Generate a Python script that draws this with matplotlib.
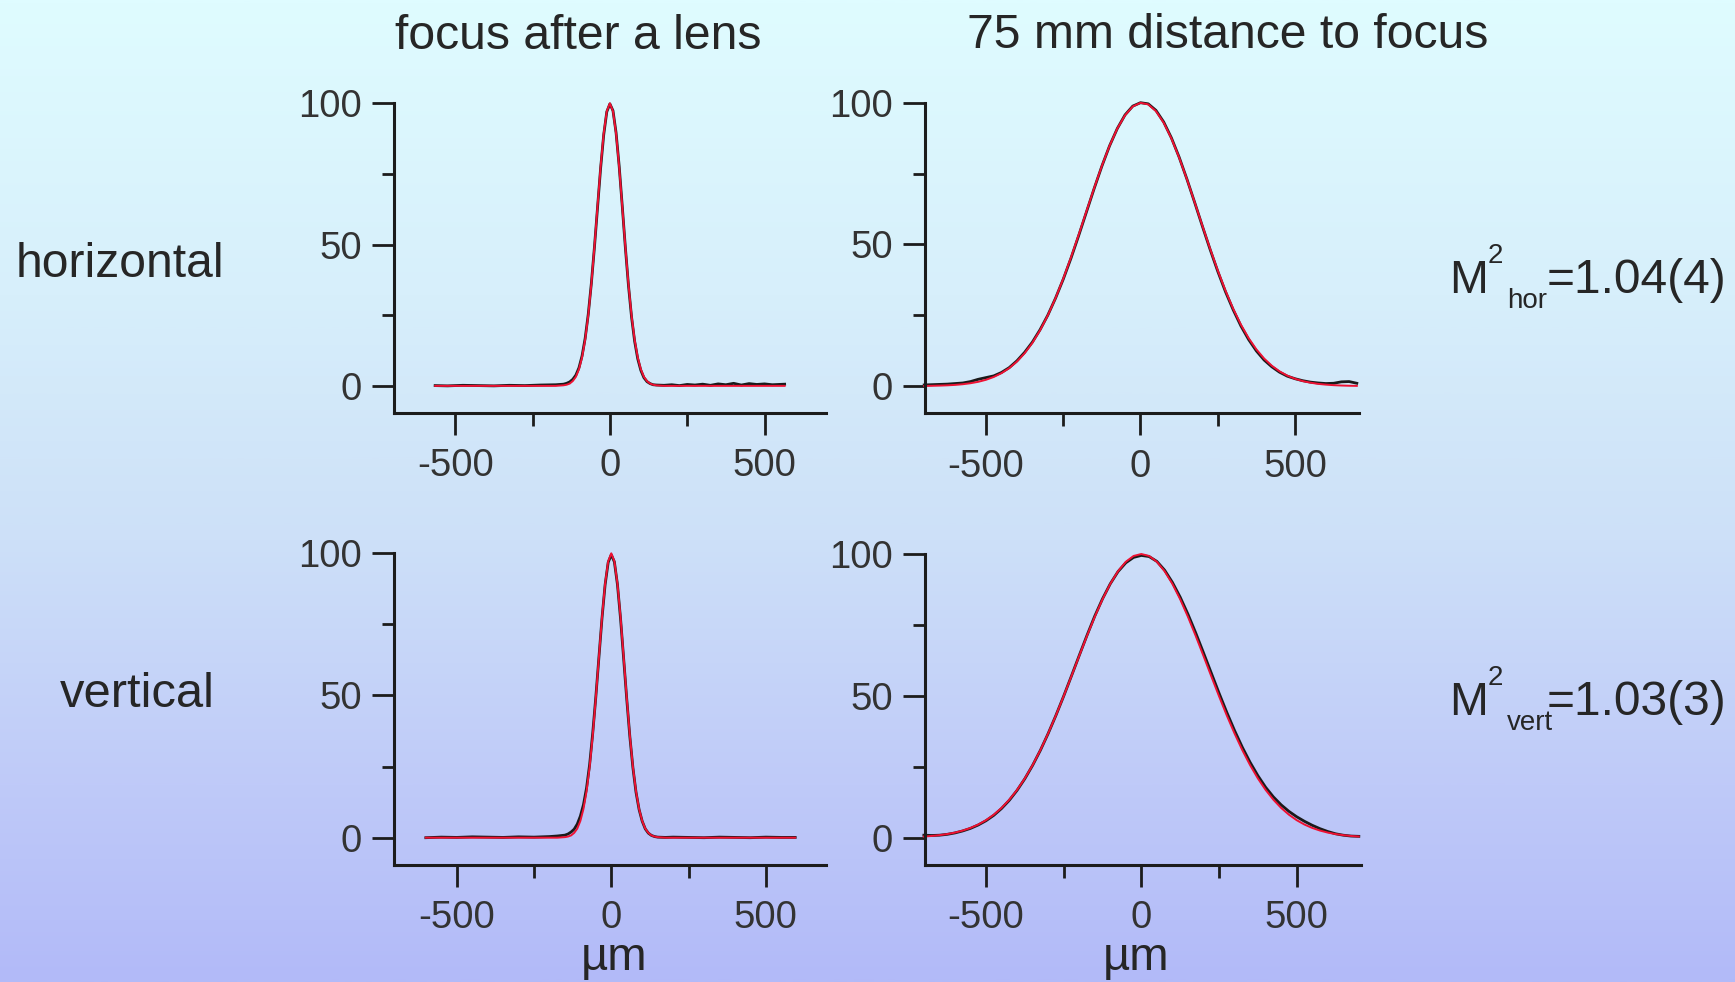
import numpy as np
import matplotlib
matplotlib.use("Agg")
import matplotlib.pyplot as plt
from matplotlib.colors import LinearSegmentedColormap
from matplotlib.ticker import MultipleLocator

plt.rcParams['font.family'] = ['Liberation Sans', 'DejaVu Sans']
plt.rcParams['axes.unicode_minus'] = False

# ---------------- data ----------------
col_titles = ["focus after a lens", "75 mm distance to focus"]
row_labels = ["horizontal", "vertical"]
x_unit = "\u00b5m"
x_ticks = [-500, 0, 500]
y_ticks = [0, 50, 100]

# horizontal, focus after a lens
x_hf = [-565, -525, -475, -425, -375, -325, -275, -225, -175,
        -150, -140, -130, -120, -110, -100, -90, -80, -70, -60, -50, -40, -30, -20, -10,
        0, 10, 20, 30, 40, 50, 60, 70, 80, 90, 100, 110, 120, 130, 140, 150,
        175, 200, 225, 250, 275, 300, 325, 350, 375, 400, 425, 450, 475, 500, 525, 565]
y_hf_data = [0.1, 0.0, 0.2, 0.1, 0.0, 0.2, 0.1, 0.3, 0.4,
             0.6, 0.9, 1.4, 2.3, 3.8, 6.4, 10.6, 16.8, 25.3, 36.2, 49.0, 63.0, 77.0, 88.8, 97.0,
             99.8, 97.4, 89.6, 77.8, 63.6, 49.0, 35.6, 24.4, 15.8, 9.6, 5.5, 2.9, 1.5, 0.8, 0.4, 0.3,
             0.2, 0.4, 0.1, 0.5, 0.3, 0.6, 0.2, 0.7, 0.4, 0.9, 0.3, 0.8, 0.5, 0.7, 0.4, 0.6]
y_hf_fit = [0, 0, 0, 0, 0, 0, 0, 0, 0,
            0.2, 0.4, 0.8, 1.7, 3.2, 5.9, 10.1, 16.3, 24.9, 36.0, 49.2, 63.5, 77.5, 89.3, 97.2,
            100, 97.2, 89.3, 77.5, 63.5, 49.2, 36.0, 24.9, 16.3, 10.1, 5.9, 3.2, 1.7, 0.8, 0.4, 0.2,
            0, 0, 0, 0, 0, 0, 0, 0, 0, 0, 0, 0, 0, 0, 0, 0]

# horizontal, 75 mm distance to focus
x_hd = list(range(-700, 701, 25))
y_hd_data = [0.4, 0.5, 0.6, 0.7, 0.9, 1.1, 1.6, 2.4, 3.0, 3.6, 4.8, 6.5, 8.9, 11.9, 15.5, 19.9, 25.0,
             31.0, 37.7, 45.1, 53.1, 61.4, 69.7, 77.6, 84.8, 90.9, 95.7, 98.8, 100.0, 99.6, 97.3,
             93.2, 87.6, 80.8, 73.1, 64.9, 56.5, 48.3, 40.5, 33.3, 26.9, 21.2, 16.4, 12.4, 9.2,
             6.8, 4.9, 3.5, 2.6, 1.9, 1.4, 1.1, 0.9, 1.0, 1.5, 1.6, 1.0]
y_hd_fit = [0.06, 0.10, 0.17, 0.27, 0.42, 0.66, 1.01, 1.51, 2.22, 3.21, 4.55, 6.32, 8.64, 11.58,
            15.23, 19.68, 24.94, 31.02, 37.88, 45.40, 53.40, 61.65, 69.86, 77.70, 84.82, 90.89,
            95.58, 98.67, 99.96, 99.40, 97.02, 92.95, 87.39, 80.65, 73.06, 64.95, 56.68, 48.55,
            40.81, 33.68, 27.27, 21.68, 16.91, 12.95, 9.73, 7.18, 5.20, 3.70, 2.58, 1.76, 1.19,
            0.78, 0.51, 0.32, 0.20, 0.12, 0.07]

# vertical, focus after a lens
x_vf = [-600, -550, -500, -450, -400, -350, -300, -250, -200, -175,
        -150, -140, -130, -120, -110, -100, -90, -80, -70, -60, -50, -40, -30, -20, -10,
        0, 10, 20, 30, 40, 50, 60, 70, 80, 90, 100, 110, 120, 130, 140, 150,
        175, 200, 250, 300, 350, 400, 450, 500, 550, 595]
y_vf_data = [0.0, 0.2, 0.1, 0.3, 0.2, 0.1, 0.3, 0.2, 0.4, 0.6,
             0.9, 1.3, 2.0, 3.0, 4.8, 7.6, 11.6, 17.5, 25.8, 36.8, 49.5, 63.4, 77.2, 88.9, 96.8,
             99.5, 97.0, 89.0, 77.0, 63.0, 48.8, 35.6, 24.6, 16.0, 9.9, 5.8, 3.1, 1.6, 0.8, 0.4, 0.2,
             0.1, 0.2, 0.1, 0.0, 0.2, 0.1, 0.0, 0.2, 0.1, 0.1]
y_vf_fit = [0, 0, 0, 0, 0, 0, 0, 0, 0, 0,
            0.2, 0.4, 0.8, 1.7, 3.2, 5.9, 10.1, 16.3, 24.9, 36.0, 49.2, 63.5, 77.5, 89.3, 97.2,
            100, 97.2, 89.3, 77.5, 63.5, 49.2, 36.0, 24.9, 16.3, 10.1, 5.9, 3.2, 1.7, 0.8, 0.4, 0.2,
            0, 0, 0, 0, 0, 0, 0, 0, 0, 0]

# vertical, 75 mm distance to focus
x_vd = list(range(-700, 701, 25))
y_vd_data = [0.9, 0.8, 0.9, 1.2, 1.7, 2.4, 3.3, 4.5, 6.0, 7.9, 10.3, 13.2, 16.7, 20.8, 25.5, 30.8,
             36.7, 43.1, 49.9, 57.0, 64.2, 71.3, 78.1, 84.2, 89.5, 93.8, 96.9, 98.8, 99.5, 99.1,
             97.4, 94.3, 90.0, 84.8, 78.8, 72.2, 65.2, 58.1, 51.0, 44.2, 37.8, 31.9, 26.6, 21.9,
             17.8, 14.4, 11.6, 9.3, 7.4, 5.8, 4.4, 3.2, 2.2, 1.4, 0.9, 0.6, 0.5]
y_vd_fit = [0.43, 0.63, 0.91, 1.30, 1.82, 2.53, 3.46, 4.66, 6.19, 8.13, 10.51, 13.41, 16.86, 20.92,
            25.59, 30.88, 36.74, 43.11, 49.89, 56.94, 64.08, 71.13, 77.86, 84.04, 89.47, 93.93,
            97.26, 99.31, 100.0, 99.31, 97.26, 93.93, 89.47, 84.04, 77.86, 71.13, 64.08, 56.94,
            49.89, 43.11, 36.74, 30.88, 25.59, 20.92, 16.86, 13.41, 10.51, 8.13, 6.19, 4.66, 3.46,
            2.53, 1.82, 1.30, 0.91, 0.63, 0.43]

m2_labels = [("hor", "=1.04(4)"), ("vert", "=1.03(3)")]

# ---------------- figure ----------------
W, H = 1735, 982
fig = plt.figure(figsize=(W / 100, H / 100), dpi=100)

# background gradient
bg = fig.add_axes([0, 0, 1, 1], zorder=-10)
cmap = LinearSegmentedColormap.from_list(
    "bg", [(0.0, "#dffcff"), (0.3, "#d7effb"), (0.55, "#cde0f8"),
           (0.8, "#bfcaf9"), (1.0, "#b2baf8")])
bg.imshow(np.linspace(0, 1, 512).reshape(-1, 1), aspect="auto", cmap=cmap,
          extent=[0, 1, 0, 1])
bg.axis("off")

INK = "#1c1c1c"
TXT = "#262626"


def make_ax(left, top, right, bottom):
    return fig.add_axes([left / W, 1 - bottom / H, (right - left) / W, (bottom - top) / H])


def style(ax, xlim):
    ax.set_facecolor("none")
    for s in ("top", "right"):
        ax.spines[s].set_visible(False)
    for s in ("left", "bottom"):
        ax.spines[s].set_linewidth(2.2)
        ax.spines[s].set_color(INK)
    ax.set_xlim(*xlim)
    ax.set_ylim(-9.6, 100)
    ax.set_xticks(x_ticks)
    ax.set_yticks(y_ticks)
    ax.xaxis.set_minor_locator(MultipleLocator(250))
    ax.yaxis.set_minor_locator(MultipleLocator(25))
    ax.tick_params(which="major", length=15.5, width=2, direction="out", color=INK,
                   labelsize=27.5, labelcolor="#333333")
    ax.tick_params(axis="x", which="major", pad=10)
    ax.tick_params(axis="y", which="major", pad=8)
    ax.tick_params(which="minor", length=9, width=2, direction="out", color=INK)


panels = [
    ((394.3, 103.3, 826.4, 413.0), (-697, 700), x_hf, y_hf_data, y_hf_fit),
    ((925.4, 102.7, 1359.3, 413.3), (-696, 708), x_hd, y_hd_data, y_hd_fit),
    ((394.3, 553.3, 826.4, 865.0), (-702, 696), x_vf, y_vf_data, y_vf_fit),
    ((925.4, 554.0, 1361.0, 865.0), (-695, 707), x_vd, y_vd_data, y_vd_fit),
]

for rect, xlim, xs, yd, yf in panels:
    ax = make_ax(*rect)
    style(ax, xlim)
    ax.plot(xs, yd, color="#1a1a1a", lw=2.0, clip_on=False, solid_joinstyle="round")
    ax.plot(xs, yf, color="#ee1133", lw=1.4, clip_on=False, solid_joinstyle="round")


def ftext(x, y, s, size, ha="left"):
    fig.text(x / W, 1 - y / H, s, fontsize=size, ha=ha, va="baseline", color=TXT)


# column titles
ftext(578.5, 49, col_titles[0], 34.7, ha="center")
ftext(1228, 48, col_titles[1], 34.7, ha="center")
# row labels
ftext(16, 276.7, row_labels[0], 34.6)
ftext(60, 706.7, row_labels[1], 35.2)
# x-axis unit labels
ftext(614, 970, x_unit, 34, ha="center")
ftext(1136, 970, x_unit, 34, ha="center")

# M^2 annotations
for (sub, val), base in zip(m2_labels, (293.3, 715.0)):
    ftext(1449, base, "M", 33.5)
    ftext(1488, base - 30, "2", 20)
    ftext(1506.7, base + 15, sub, 20)
    ftext(1546.5, base, val, 34.5)

fig.savefig("out.png", dpi=100)
